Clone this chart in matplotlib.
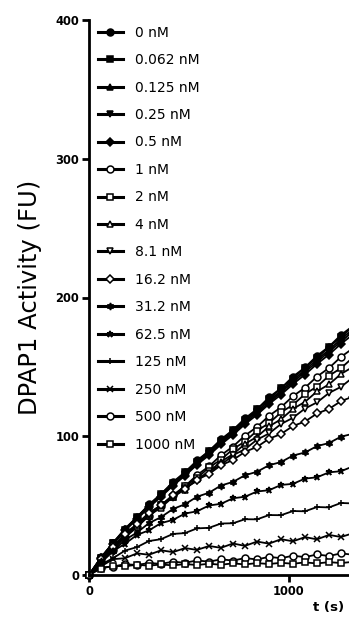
import matplotlib
matplotlib.use("Agg")
import matplotlib.pyplot as plt

plt.rcParams['font.family'] = ['DejaVu Sans']

# time points (s)
t = [0, 60, 120, 180, 240, 300, 360, 420, 480, 540, 600, 660, 720, 780,
     840, 900, 960, 1020, 1080, 1140, 1200, 1260, 1320]

# DPAP1 activity (FU) for each inhibitor concentration
y_0 = [0, 12.8, 23.0, 33.5, 41.6, 50.9, 58.2, 67.1, 74.0, 82.6, 89.3, 97.8, 104.5,
       112.9, 119.5, 128.0, 134.6, 143.0, 149.6, 158.0, 164.6, 173.0, 179.5]
y_0062 = [0, 12.3, 23.4, 32.6, 42.1, 50.0, 58.6, 66.0, 74.3, 81.5, 89.5, 96.6, 104.6,
          111.6, 119.6, 126.5, 134.6, 141.5, 149.5, 156.4, 164.4, 171.3, 179.2]
y_0125 = [0, 12.4, 22.8, 32.7, 41.2, 49.9, 57.6, 65.8, 73.1, 81.0, 88.2, 96.0, 103.2,
          110.9, 118.0, 125.6, 132.8, 140.4, 147.6, 155.2, 162.3, 170.0, 177.1]
y_025 = [0, 11.9, 22.9, 31.9, 41.3, 49.0, 57.4, 64.6, 72.9, 79.8, 87.7, 94.6, 102.6,
         109.3, 117.2, 124.0, 131.9, 138.7, 146.6, 153.3, 161.2, 168.0, 175.8]
y_05 = [0, 12.2, 22.2, 32.1, 40.2, 48.9, 56.3, 64.5, 71.5, 79.5, 86.3, 94.1, 101.0,
        108.7, 115.5, 123.2, 130.0, 137.6, 144.5, 152.1, 158.9, 166.6, 173.4]
y_1 = [0, 10.1, 18.3, 27.2, 34.4, 42.8, 49.5, 57.6, 64.0, 72.0, 78.3, 86.3, 92.6,
       100.5, 106.7, 114.7, 120.9, 128.9, 135.0, 143.0, 149.2, 157.2, 163.4]
y_2 = [0, 10.6, 20.5, 27.9, 36.4, 42.7, 50.6, 56.3, 64.1, 69.8, 77.5, 83.1, 90.8,
       96.2, 104.0, 109.4, 117.2, 122.7, 130.4, 135.8, 143.6, 149.1, 156.8]
y_4 = [0, 11.2, 19.6, 28.5, 35.0, 42.9, 48.6, 56.3, 61.6, 69.1, 74.3, 81.8, 87.0,
       94.5, 99.6, 107.1, 112.2, 119.7, 124.8, 132.3, 137.4, 144.9, 150.0]
y_81 = [0, 10.7, 20.9, 28.3, 36.8, 42.9, 50.5, 55.8, 62.9, 67.7, 74.7, 79.3, 86.3,
        90.7, 97.5, 102.0, 108.8, 113.3, 120.0, 124.4, 131.2, 135.6, 142.4]
y_162 = [0, 11.4, 20.5, 29.9, 36.7, 44.9, 50.3, 57.6, 62.1, 68.7, 72.8, 79.1, 82.9,
         88.8, 92.3, 98.2, 101.6, 107.4, 110.6, 116.4, 119.7, 125.3, 128.6]
y_312 = [0, 9.8, 17.2, 25.3, 30.6, 37.4, 41.7, 47.6, 51.0, 56.4, 59.3, 64.5, 67.1,
         71.9, 74.4, 79.1, 81.4, 86.1, 88.3, 92.9, 95.1, 99.7, 101.8]
y_625 = [0, 8.8, 17.2, 22.5, 28.9, 32.2, 37.4, 39.7, 44.3, 45.9, 50.1, 51.3, 55.3,
         56.4, 60.2, 61.1, 64.9, 65.7, 69.5, 70.4, 74.0, 74.8, 78.3]
y_125 = [0, 7.5, 12.1, 17.6, 20.1, 24.5, 25.8, 29.6, 30.2, 33.6, 34.0, 37.1, 37.3,
         40.2, 40.1, 43.2, 43.1, 46.1, 45.9, 49.0, 48.7, 51.9, 51.6]
y_250 = [0, 6.2, 11.4, 12.1, 15.6, 14.6, 17.8, 16.5, 19.4, 18.1, 20.9, 19.6, 22.7,
         21.0, 24.1, 22.6, 25.8, 24.3, 27.3, 25.7, 28.9, 27.4, 30.1]
y_500 = [0, 5.4, 6.1, 7.8, 7.2, 8.7, 8.0, 9.6, 8.8, 10.5, 9.6, 11.3, 10.4,
         12.2, 11.2, 13.1, 12.1, 13.9, 12.9, 14.8, 13.7, 15.6, 14.6]
y_1000 = [0, 4.6, 6.6, 6.3, 7.4, 6.7, 7.6, 6.9, 7.9, 7.2, 8.1, 7.4, 8.4,
          7.6, 8.6, 7.9, 8.8, 8.1, 9.1, 8.3, 9.3, 8.6, 9.5]

labels = ['0 nM', '0.062 nM', '0.125 nM', '0.25 nM', '0.5 nM', '1 nM', '2 nM',
          '4 nM', '8.1 nM', '16.2 nM', '31.2 nM', '62.5 nM', '125 nM', '250 nM',
          '500 nM', '1000 nM']
series = [y_0, y_0062, y_0125, y_025, y_05, y_1, y_2, y_4, y_81, y_162,
          y_312, y_625, y_125, y_250, y_500, y_1000]
markers = ['o', 's', '^', 'v', 'D', 'o', 's', '^', 'v', 'D',
           (6, 1, 0), '*', '+', 'x', 'o', 's']
filled = [True, True, True, True, True, False, False, False, False, False,
          True, True, True, True, False, False]

fig = plt.figure(figsize=(3.49, 6.25), dpi=100)
ax = fig.add_axes([89 / 349, 50 / 625, 260 / 349, 555 / 625])

for y, lab, m, f in zip(series, labels, markers, filled):
    ms = 5
    if m == 'D':
        ms = 4
    ax.plot(t, y, color='black', lw=1.3, marker=m, ms=ms,
            mfc='black' if f else 'white', mec='black', mew=1.1,
            label=lab, clip_on=False)

ax.set_xlim(0, 1300)
ax.set_ylim(0, 400)
ax.set_xticks([0, 1000])
ax.set_yticks([0, 100, 200, 300, 400])
for s in ['top', 'right']:
    ax.spines[s].set_visible(False)
for s in ['left', 'bottom']:
    ax.spines[s].set_linewidth(2)
ax.tick_params(direction='out', length=5, width=2, labelsize=8.3, pad=2)
for lbl in ax.get_xticklabels() + ax.get_yticklabels():
    lbl.set_fontweight('bold')

leg = ax.legend(loc='upper left', bbox_to_anchor=(0.013, 1.0), borderaxespad=0,
                frameon=False, fontsize=10, numpoints=1, handlelength=1.8,
                handletextpad=0.85, labelspacing=0.97)
for h in leg.get_lines():
    h.set_linewidth(2.2)

fig.text(30 / 349, 1 - 297 / 625, 'DPAP1 Activity (FU)', rotation=90,
         ha='center', va='center', fontsize=17.5)
fig.text(329 / 349, 1 - 607 / 625, 't (s)', ha='center', va='center',
         fontsize=9.6, fontweight='bold')

fig.savefig('out.png', dpi=100)
